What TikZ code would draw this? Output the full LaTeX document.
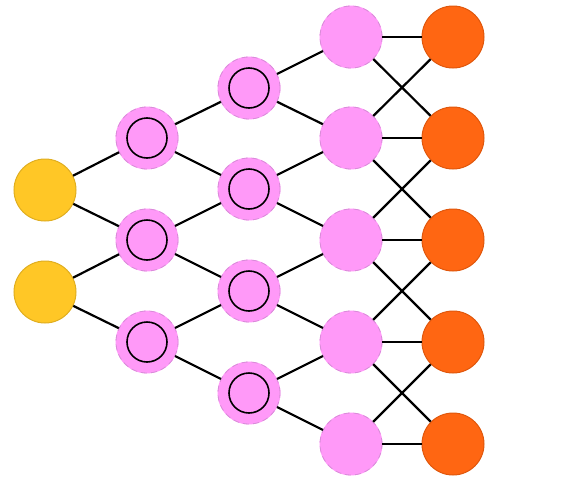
\documentclass[tikz,border=0pt]{standalone}
\definecolor{yel}{HTML}{FFC726}
\definecolor{yelb}{HTML}{E0AE20}
\definecolor{pnk}{HTML}{FF99F8}
\definecolor{pnkb}{HTML}{D88CD8}
\definecolor{org}{HTML}{FF6612}
\definecolor{orgb}{HTML}{E0570C}
\tikzset{
  inp/.style={circle,minimum size=62pt,inner sep=0pt,fill=yel,draw=yelb,line width=1pt},
  hid/.style={circle,minimum size=62pt,inner sep=0pt,fill=pnk,draw=pnk,line width=0.8pt,
    postaction={draw=pnkb,line width=0.8pt,dash pattern=on 6pt off 4pt}},
  outn/.style={circle,minimum size=62pt,inner sep=0pt,fill=org,draw=orgb,line width=1pt},
  ring/.style={circle,minimum size=40pt,inner sep=0pt,draw=black,line width=1.6pt},
  conn/.style={line width=2.2pt,black}
}
\begin{document}
\begin{tikzpicture}[x=1pt,y=-1pt]
\useasboundingbox (0,0) rectangle (572,490);
% input
\node[inp] (a1) at (45,190) {};
\node[inp] (a2) at (45,292) {};
% col2
\foreach \i/\y in {1/138,2/240,3/342} {\node[hid] (b\i) at (147,\y) {}; \node[ring] (rb\i) at (147,\y) {};}
% col3
\foreach \i/\y in {1/88,2/189,3/291,4/393} {\node[hid] (c\i) at (249,\y) {}; \node[ring] (rc\i) at (249,\y) {};}
% col4
\foreach \i/\y in {1/37,2/138,3/240,4/342,5/444} {\node[hid] (d\i) at (351,\y) {};}
% col5
\foreach \i/\y in {1/37,2/138,3/240,4/342,5/444} {\node[outn] (e\i) at (453,\y) {};}
% connectors
\draw[conn] (a1) -- (b1); \draw[conn] (a1) -- (b2);
\draw[conn] (a2) -- (b2); \draw[conn] (a2) -- (b3);
\draw[conn] (b1) -- (c1); \draw[conn] (b1) -- (c2);
\draw[conn] (b2) -- (c2); \draw[conn] (b2) -- (c3);
\draw[conn] (b3) -- (c3); \draw[conn] (b3) -- (c4);
\draw[conn] (c1) -- (d1); \draw[conn] (c1) -- (d2);
\draw[conn] (c2) -- (d2); \draw[conn] (c2) -- (d3);
\draw[conn] (c3) -- (d3); \draw[conn] (c3) -- (d4);
\draw[conn] (c4) -- (d4); \draw[conn] (c4) -- (d5);
\draw[conn] (d1) -- (e1); \draw[conn] (d1) -- (e2);
\draw[conn] (d2) -- (e1); \draw[conn] (d2) -- (e2); \draw[conn] (d2) -- (e3);
\draw[conn] (d3) -- (e2); \draw[conn] (d3) -- (e3); \draw[conn] (d3) -- (e4);
\draw[conn] (d4) -- (e3); \draw[conn] (d4) -- (e4); \draw[conn] (d4) -- (e5);
\draw[conn] (d5) -- (e4); \draw[conn] (d5) -- (e5);
\end{tikzpicture}
\end{document}
